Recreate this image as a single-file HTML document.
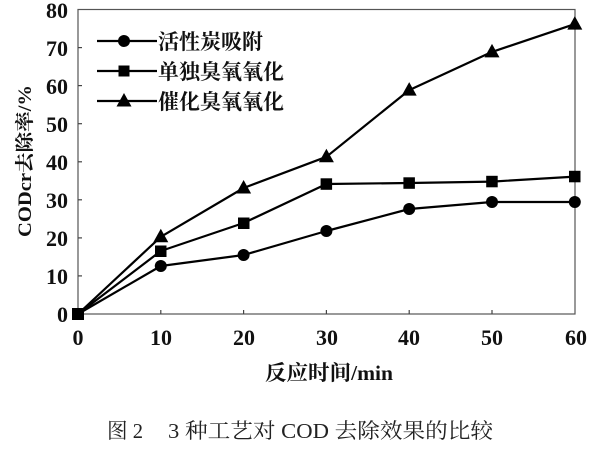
<!DOCTYPE html>
<html><head><meta charset="utf-8"><style>
html,body{margin:0;padding:0;background:#fff;}
svg{display:block;}
</style></head><body>
<svg width="600" height="450" viewBox="0 0 600 450" xmlns="http://www.w3.org/2000/svg">
<rect width="600" height="450" fill="#fff"/>
<!-- frame -->
<rect x="78" y="9.5" width="497" height="304.5" fill="none" stroke="#555" stroke-width="1.2"/>
<!-- ticks -->
<g stroke="#444" stroke-width="1.2">
<line x1="78" y1="314" x2="82" y2="314"/>
<line x1="78" y1="275.9" x2="82" y2="275.9"/>
<line x1="78" y1="237.9" x2="82" y2="237.9"/>
<line x1="78" y1="199.8" x2="82" y2="199.8"/>
<line x1="78" y1="161.8" x2="82" y2="161.8"/>
<line x1="78" y1="123.7" x2="82" y2="123.7"/>
<line x1="78" y1="85.6" x2="82" y2="85.6"/>
<line x1="78" y1="47.6" x2="82" y2="47.6"/>
<line x1="160.8" y1="314" x2="160.8" y2="310"/>
<line x1="243.6" y1="314" x2="243.6" y2="310"/>
<line x1="326.4" y1="314" x2="326.4" y2="310"/>
<line x1="409.2" y1="314" x2="409.2" y2="310"/>
<line x1="492" y1="314" x2="492" y2="310"/>
</g>
<!-- tick labels -->
<g font-family="Liberation Serif, serif" font-weight="bold" font-size="22" fill="#111" text-anchor="end">
<text x="68" y="322">0</text>
<text x="68" y="284">10</text>
<text x="68" y="246">20</text>
<text x="68" y="208">30</text>
<text x="68" y="170">40</text>
<text x="68" y="132">50</text>
<text x="68" y="94">60</text>
<text x="68" y="56">70</text>
<text x="68" y="18">80</text>
</g>
<g font-family="Liberation Serif, serif" font-weight="bold" font-size="22" fill="#111" text-anchor="middle">
<text x="78" y="345">0</text>
<text x="161" y="345">10</text>
<text x="244" y="345">20</text>
<text x="327" y="345">30</text>
<text x="409" y="345">40</text>
<text x="492" y="345">50</text>
<text x="576" y="345">60</text>
</g>
<!-- axis labels -->
<text x="0" y="0" transform="translate(31,161) rotate(-90)" text-anchor="middle" font-family="Liberation Serif, 'Noto Serif CJK SC', serif" font-weight="bold" font-size="19" fill="#111" textLength="152" lengthAdjust="spacingAndGlyphs">CODcr去除率/%</text>
<text x="329" y="380" text-anchor="middle" font-family="Liberation Serif, 'Noto Serif CJK SC', serif" font-weight="bold" font-size="21" fill="#111" textLength="128" lengthAdjust="spacingAndGlyphs">反应时间/min</text>
<!-- caption -->
<text x="107" y="438" font-family="Liberation Serif, 'Noto Serif CJK SC', serif" font-size="21" fill="#222" textLength="36" lengthAdjust="spacingAndGlyphs">图 2</text>
<text x="168" y="438" font-family="Liberation Serif, 'Noto Serif CJK SC', serif" font-size="21" fill="#222" textLength="325" lengthAdjust="spacingAndGlyphs">3 种工艺对 COD 去除效果的比较</text>

<!-- series lines -->
<g fill="none" stroke="#000" stroke-width="2.2" stroke-linejoin="round">
<polyline points="78,314 160.8,266 243.6,255 326.4,231 409.2,209 492,202 574.8,202"/>
<polyline points="78,314 160.8,251 243.6,223 326.4,184 409.2,183 492,181.6 574.8,176.6"/>
<polyline points="78,314 160.8,236.8 243.6,188 326.4,156.8 409.2,90.1 492,51.9 574.8,24.1"/>
</g>
<g fill="#000">
<circle cx="160.8" cy="266" r="6"/>
<circle cx="243.6" cy="255" r="6"/>
<circle cx="326.4" cy="231" r="6"/>
<circle cx="409.2" cy="209" r="6"/>
<circle cx="492" cy="202" r="6"/>
<circle cx="574.8" cy="202" r="6"/>
<rect x="72" y="308" width="12" height="12"/>
<rect x="155" y="245.5" width="11.5" height="11.5"/>
<rect x="238" y="217.5" width="11.5" height="11.5"/>
<rect x="320.6" y="178.3" width="11.5" height="11.5"/>
<rect x="403.4" y="177.3" width="11.5" height="11.5"/>
<rect x="486.2" y="175.8" width="11.5" height="11.5"/>
<rect x="569" y="170.8" width="11.5" height="11.5"/>
<polygon points="160.8,228.8 168.3,242.3 153.3,242.3"/>
<polygon points="243.6,180 251.1,193.5 236.1,193.5"/>
<polygon points="326.4,148.8 333.9,162.3 318.9,162.3"/>
<polygon points="409.2,82.1 416.7,95.6 401.7,95.6"/>
<polygon points="492,43.9 499.5,57.4 484.5,57.4"/>
<polygon points="574.8,16.1 582.3,29.6 567.3,29.6"/>
</g>

<!-- legend -->
<g stroke="#000" stroke-width="2.2">
<line x1="97" y1="41" x2="157" y2="41"/>
<line x1="97" y1="71" x2="157" y2="71"/>
<line x1="97" y1="101" x2="157" y2="101"/>
</g>
<g fill="#000">
<circle cx="124" cy="41" r="6"/>
<rect x="118.5" y="65.5" width="11" height="11"/>
<polygon points="124,93 131.5,106.5 116.5,106.5"/>
</g>
<g font-family="Liberation Serif, 'Noto Serif CJK SC', serif" font-weight="bold" font-size="21" fill="#111">
<text x="158" y="49" textLength="105" lengthAdjust="spacingAndGlyphs">活性炭吸附</text>
<text x="158" y="79" textLength="126" lengthAdjust="spacingAndGlyphs">单独臭氧氧化</text>
<text x="158" y="109" textLength="126" lengthAdjust="spacingAndGlyphs">催化臭氧氧化</text>
</g>
</svg>
</body></html>
